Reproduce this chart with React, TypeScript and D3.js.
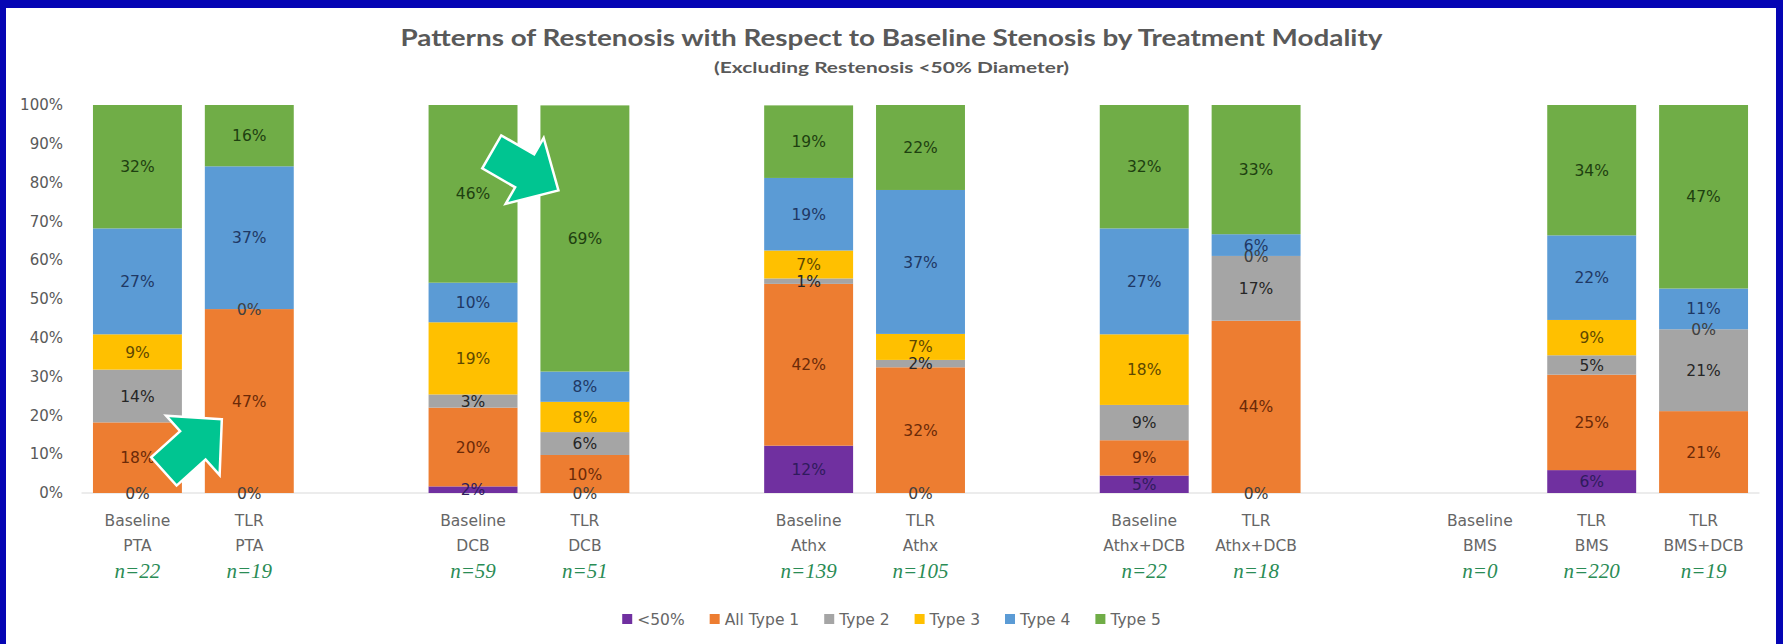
import React, { useEffect, useRef } from "react";
import * as d3 from "d3";

const W = 1783;
const H = 644;

const titleText = "Patterns of Restenosis with Respect to Baseline Stenosis by Treatment Modality";
const subtitleText = "(Excluding Restenosis <50% Diameter)";

// 15 slots: empty strings are spacer slots between treatment groups
const categories = [
  "Baseline PTA", "TLR PTA", "",
  "Baseline DCB", "TLR DCB", "",
  "Baseline Athx", "TLR Athx", "",
  "Baseline Athx+DCB", "TLR Athx+DCB", "",
  "Baseline BMS", "TLR BMS", "TLR BMS+DCB",
];
const sampleSizes = [
  "n=22", "n=19", "",
  "n=59", "n=51", "",
  "n=139", "n=105", "",
  "n=22", "n=18", "",
  "n=0", "n=220", "n=19",
];

const seriesNames = ["<50%", "All Type 1", "Type 2", "Type 3", "Type 4", "Type 5"];
const seriesColors = ["#7030a0", "#ed7d31", "#a5a5a5", "#ffc000", "#5b9bd5", "#70ad47"];
const labelColors = ["#2f1b5c", "#6b2a08", "#262626", "#5e4800", "#1f3864", "#1e4010"];

// percentages (null = no value / no label)
const lt50 = [0, 0, null, 1.7, 0, null, 12.2, 0, null, 4.5, 0, null, null, 5.9, null];
const type1 = [18.2, 47.4, null, 20.3, 9.8, null, 41.7, 32.4, null, 9.1, 44.4, null, null, 24.6, 21.1];
const type2 = [13.6, null, null, 3.4, 5.9, null, 1.4, 1.9, null, 9.1, 16.7, null, null, 5.0, 21.1];
const type3 = [9.1, 0, null, 18.6, 7.8, null, 7.2, 6.7, null, 18.2, 0, null, null, 9.1, 0];
const type4 = [27.3, 36.8, null, 10.2, 7.8, null, 18.7, 37.1, null, 27.3, 5.6, null, null, 21.8, 10.5];
const type5 = [31.8, 15.8, null, 45.8, 68.6, null, 18.7, 21.9, null, 31.8, 33.3, null, null, 33.6, 47.4];

const seriesValues = [lt50, type1, type2, type3, type4, type5];
const yTicks = [0, 10, 20, 30, 40, 50, 60, 70, 80, 90, 100];

const FONT = "'DejaVu Sans', sans-serif";
const TITLE_FONT = "Lato, 'Open Sans', sans-serif";

function arrowPath(L: number, headLen: number, headW: number, shaftW: number) {
  const pts: [number, number][] = [
    [0, 0],
    [-headLen, -headW / 2],
    [-headLen, -shaftW / 2],
    [-L, -shaftW / 2],
    [-L, shaftW / 2],
    [-headLen, shaftW / 2],
    [-headLen, headW / 2],
  ];
  return "M" + pts.map((p) => p.join(",")).join("L") + "Z";
}

export default function App() {
  const ref = useRef<SVGSVGElement | null>(null);

  useEffect(() => {
    const svg = d3.select(ref.current);
    svg.selectAll("*").remove();

    svg.append("rect").attr("width", W).attr("height", H).attr("fill", "#ffffff");

    // frame
    const frame = "#0505b4";
    svg.append("rect").attr("x", 0).attr("y", 0).attr("width", W).attr("height", 8).attr("fill", frame);
    svg.append("rect").attr("x", 0).attr("y", 0).attr("width", 6).attr("height", H).attr("fill", frame);
    svg.append("rect").attr("x", W - 7).attr("y", 0).attr("width", 7).attr("height", H).attr("fill", frame);

    const x = d3
      .scaleBand<number>()
      .domain(d3.range(categories.length))
      .range([81.5, 1759.5])
      .paddingInner(0.205)
      .paddingOuter(0.1025);
    const y = d3.scaleLinear().domain([0, 100]).range([493, 105]);

    const cx = W / 2;

    // title
    svg
      .append("text")
      .attr("x", cx)
      .attr("y", 46)
      .attr("text-anchor", "middle")
      .attr("font-family", TITLE_FONT)
      .attr("font-weight", 700)
      .attr("font-size", 23)
      .attr("fill", "#595959")
      .attr("textLength", 982)
      .attr("lengthAdjust", "spacingAndGlyphs")
      .text(titleText);
    svg
      .append("text")
      .attr("x", cx)
      .attr("y", 73)
      .attr("text-anchor", "middle")
      .attr("font-family", TITLE_FONT)
      .attr("font-weight", 700)
      .attr("font-size", 16)
      .attr("fill", "#595959")
      .attr("textLength", 355)
      .attr("lengthAdjust", "spacingAndGlyphs")
      .text(subtitleText);

    // y axis labels
    svg
      .append("g")
      .selectAll("text")
      .data(yTicks)
      .join("text")
      .attr("x", 63)
      .attr("y", (d) => y(d))
      .attr("dy", "0.35em")
      .attr("text-anchor", "end")
      .attr("font-family", FONT)
      .attr("font-size", 15)
      .attr("fill", "#595959")
      .text((d) => d + "%");

    // baseline
    svg
      .append("line")
      .attr("x1", 81.5)
      .attr("x2", 1759.5)
      .attr("y1", y(0))
      .attr("y2", y(0))
      .attr("stroke", "#d9d9d9")
      .attr("stroke-width", 1);

    // stacked data
    const keys = seriesNames.map((_, i) => "s" + i);
    const rows = categories.map((_, ci) => {
      const r: Record<string, number> = {};
      seriesValues.forEach((arr, si) => {
        r["s" + si] = arr[ci] ?? 0;
      });
      return r;
    });
    const stacked = d3.stack<Record<string, number>>().keys(keys)(rows);

    const barsG = svg.append("g");
    const labelsG = svg.append("g");
    stacked.forEach((layer, si) => {
      layer.forEach((seg, ci) => {
        const v = seriesValues[si][ci];
        if (v === null || v === undefined || categories[ci] === "") return;
        const x0 = x(ci)!;
        const bw = x.bandwidth();
        const top = Math.min(seg[1], 100);
        const bot = Math.min(seg[0], 100);
        if (v > 0) {
          barsG
            .append("rect")
            .attr("x", x0)
            .attr("y", y(top))
            .attr("width", bw)
            .attr("height", y(bot) - y(top))
            .attr("fill", seriesColors[si]);
        }
        labelsG
          .append("text")
          .attr("x", x0 + bw / 2)
          .attr("y", y((top + bot) / 2))
          .attr("dy", "0.36em")
          .attr("text-anchor", "middle")
          .attr("font-family", FONT)
          .attr("font-size", 15.5)
          .attr("fill", v === 0 ? "#404040" : labelColors[si])
          .text(Math.round(v) + "%");
      });
    });

    // category labels
    const catG = svg.append("g");
    categories.forEach((c, ci) => {
      if (!c) return;
      const sp = c.indexOf(" ");
      const l1 = c.slice(0, sp);
      const l2 = c.slice(sp + 1);
      const xc = x(ci)! + x.bandwidth() / 2;
      [l1, l2].forEach((t, li) => {
        catG
          .append("text")
          .attr("x", xc)
          .attr("y", 520 + li * 25)
          .attr("dy", "0.36em")
          .attr("text-anchor", "middle")
          .attr("font-family", FONT)
          .attr("font-size", 15.5)
          .attr("fill", "#666666")
          .text(t);
      });
      catG
        .append("text")
        .attr("x", xc)
        .attr("y", 571)
        .attr("dy", "0.33em")
        .attr("text-anchor", "middle")
        .attr("font-family", "'Liberation Serif', 'Times New Roman', serif")
        .attr("font-style", "italic")
        .attr("font-size", 21)
        .attr("fill", "#2a8c55")
        .text(sampleSizes[ci]);
    });

    // legend
    const legendG = svg.append("g");
    let lx = 0;
    const ly = 619;
    const gap = 25;
    seriesNames.forEach((name, si) => {
      legendG
        .append("rect")
        .attr("x", lx)
        .attr("y", ly - 5)
        .attr("width", 10)
        .attr("height", 10)
        .attr("fill", seriesColors[si]);
      const t = legendG
        .append("text")
        .attr("x", lx + 15)
        .attr("y", ly)
        .attr("dy", "0.36em")
        .attr("font-family", FONT)
        .attr("font-size", 15.5)
        .attr("fill", "#666666")
        .text(name);
      const tw = (t.node() as SVGTextElement).getComputedTextLength();
      lx += 15 + tw + gap;
    });
    const legendW = lx - gap;
    legendG.attr("transform", `translate(${cx - legendW / 2},0)`);

    // annotation arrows
    const arrowFill = "#00c591";
    const a1x = x(1)! + 17;
    const a1y = y(19);
    svg
      .append("path")
      .attr("d", arrowPath(78, 39, 80, 38))
      .attr("transform", `translate(${a1x},${a1y}) rotate(-42)`)
      .attr("fill", arrowFill)
      .attr("stroke", "#ffffff")
      .attr("stroke-width", 2.5);
    const a2x = x(4)! + 18;
    const a2y = y(78);
    svg
      .append("path")
      .attr("d", arrowPath(77, 39, 76, 38))
      .attr("transform", `translate(${a2x},${a2y}) rotate(30)`)
      .attr("fill", arrowFill)
      .attr("stroke", "#ffffff")
      .attr("stroke-width", 2.5);
  }, []);

  return (
    <svg
      ref={ref}
      width={W}
      height={H}
      style={{ position: "absolute", left: 0, top: 0, display: "block" }}
    />
  );
}
